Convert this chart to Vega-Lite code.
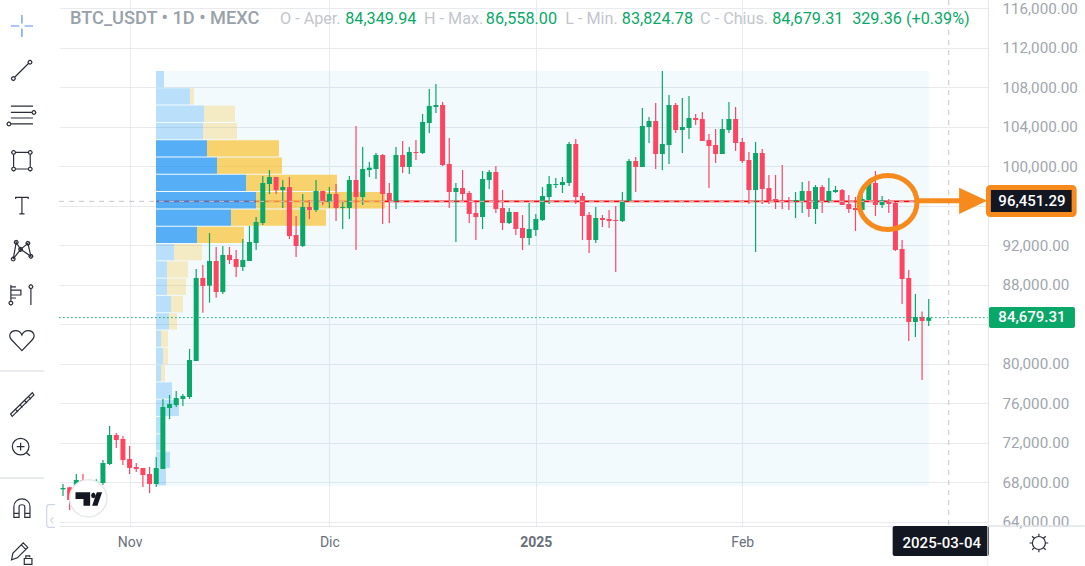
{"$schema":"https://vega.github.io/schema/vega-lite/v6.json","width":929,"height":526,"autosize":"none","padding":{"left":59,"top":0,"right":97,"bottom":40},"background":"#ffffff","config":{"view":{"stroke":null},"font":"Roboto"},
"datasets":{
"ohlc":[
{"d":"2024-10-22","o":67286,"h":67826,"l":66611,"c":67421},
{"d":"2024-10-23","o":67488,"h":67556,"l":65193,"c":66205},
{"d":"2024-10-24","o":66700,"h":68839,"l":66205,"c":68231},
{"d":"2024-10-25","o":68231,"h":68839,"l":66374,"c":66881},
{"d":"2024-10-26","o":66881,"h":67500,"l":66700,"c":67151},
{"d":"2024-10-27","o":67151,"h":68299,"l":66881,"c":68062},
{"d":"2024-10-28","o":67927,"h":70257,"l":67725,"c":69953},
{"d":"2024-10-29","o":69851,"h":73700,"l":69750,"c":72789},
{"d":"2024-10-30","o":72789,"h":72991,"l":71472,"c":72282},
{"d":"2024-10-31","o":72384,"h":72687,"l":69750,"c":70257},
{"d":"2024-11-01","o":70358,"h":71675,"l":68839,"c":69446},
{"d":"2024-11-02","o":69548,"h":69953,"l":69041,"c":69345},
{"d":"2024-11-03","o":69446,"h":69446,"l":67522,"c":68737},
{"d":"2024-11-04","o":68839,"h":69548,"l":66914,"c":67826},
{"d":"2024-11-05","o":67826,"h":70560,"l":67522,"c":69446},
{"d":"2024-11-06","o":69345,"h":76435,"l":69345,"c":75624},
{"d":"2024-11-07","o":75523,"h":76840,"l":74409,"c":75928},
{"d":"2024-11-08","o":75827,"h":77245,"l":75624,"c":76536},
{"d":"2024-11-09","o":76435,"h":76941,"l":75726,"c":76739},
{"d":"2024-11-10","o":76637,"h":81499,"l":76435,"c":80385},
{"d":"2024-11-11","o":80283,"h":89599,"l":80283,"c":88687},
{"d":"2024-11-12","o":88687,"h":90004,"l":85179,"c":87877},
{"d":"2024-11-13","o":87913,"h":93245,"l":86191,"c":90409},
{"d":"2024-11-14","o":90409,"h":91827,"l":86698,"c":87270},
{"d":"2024-11-15","o":87270,"h":91928,"l":87067,"c":91017},
{"d":"2024-11-16","o":91017,"h":91827,"l":90105,"c":90510},
{"d":"2024-11-17","o":90611,"h":91523,"l":88788,"c":89801},
{"d":"2024-11-18","o":89801,"h":92637,"l":89396,"c":90510},
{"d":"2024-11-19","o":90409,"h":93954,"l":90409,"c":92333},
{"d":"2024-11-20","o":92232,"h":94865,"l":91523,"c":94358},
{"d":"2024-11-21","o":94257,"h":99018,"l":94055,"c":98309},
{"d":"2024-11-22","o":98207,"h":99625,"l":97195,"c":98916},
{"d":"2024-11-23","o":98916,"h":98916,"l":97195,"c":97600},
{"d":"2024-11-24","o":97600,"h":98612,"l":95777,"c":97903},
{"d":"2024-11-25","o":97903,"h":98916,"l":92637,"c":92941},
{"d":"2024-11-26","o":93042,"h":94966,"l":90814,"c":91928},
{"d":"2024-11-27","o":91928,"h":97195,"l":91827,"c":95878},
{"d":"2024-11-28","o":95878,"h":96587,"l":94663,"c":95574},
{"d":"2024-11-29","o":95574,"h":98612,"l":95372,"c":97498},
{"d":"2024-11-30","o":97498,"h":97498,"l":96080,"c":96485},
{"d":"2024-12-01","o":96384,"h":97903,"l":95777,"c":97195},
{"d":"2024-12-02","o":97195,"h":98207,"l":94460,"c":95777},
{"d":"2024-12-03","o":95777,"h":96384,"l":93650,"c":95878},
{"d":"2024-12-04","o":95777,"h":99018,"l":94663,"c":98612},
{"d":"2024-12-05","o":98612,"h":104082,"l":91523,"c":96891},
{"d":"2024-12-06","o":96891,"h":101955,"l":96080,"c":99726},
{"d":"2024-12-07","o":99625,"h":100435,"l":98916,"c":99861},
{"d":"2024-12-08","o":99726,"h":101347,"l":98714,"c":101144},
{"d":"2024-12-09","o":101145,"h":101247,"l":94157,"c":97195},
{"d":"2024-12-10","o":97297,"h":98309,"l":94258,"c":96486},
{"d":"2024-12-11","o":96486,"h":101955,"l":95676,"c":101145},
{"d":"2024-12-12","o":101145,"h":102563,"l":99322,"c":99930},
{"d":"2024-12-13","o":99930,"h":101955,"l":99221,"c":101449},
{"d":"2024-12-14","o":101449,"h":102664,"l":100639,"c":101348},
{"d":"2024-12-15","o":101348,"h":105298,"l":101247,"c":104487},
{"d":"2024-12-16","o":104386,"h":107830,"l":103373,"c":106108},
{"d":"2024-12-17","o":106007,"h":108336,"l":105399,"c":106209},
{"d":"2024-12-18","o":106209,"h":106513,"l":100031,"c":100132},
{"d":"2024-12-19","o":100234,"h":102867,"l":95777,"c":97398},
{"d":"2024-12-20","o":97398,"h":98309,"l":92334,"c":97803},
{"d":"2024-12-21","o":97803,"h":99626,"l":96385,"c":97195},
{"d":"2024-12-22","o":97297,"h":97499,"l":94258,"c":95170},
{"d":"2024-12-23","o":95271,"h":96588,"l":92536,"c":94866},
{"d":"2024-12-24","o":94866,"h":99525,"l":93650,"c":98714},
{"d":"2024-12-25","o":98613,"h":99626,"l":97702,"c":99423},
{"d":"2024-12-26","o":99423,"h":100031,"l":95271,"c":95676},
{"d":"2024-12-27","o":95777,"h":97601,"l":93549,"c":94258},
{"d":"2024-12-28","o":94258,"h":95777,"l":94157,"c":95372},
{"d":"2024-12-29","o":95372,"h":95372,"l":93043,"c":93650},
{"d":"2024-12-30","o":93752,"h":95068,"l":91524,"c":92739},
{"d":"2024-12-31","o":92739,"h":96284,"l":92030,"c":93650},
{"d":"2025-01-01","o":93549,"h":95170,"l":92941,"c":94663},
{"d":"2025-01-02","o":94562,"h":97904,"l":94461,"c":96993},
{"d":"2025-01-03","o":96891,"h":99018,"l":96183,"c":98208},
{"d":"2025-01-04","o":98107,"h":98816,"l":97800,"c":98208},
{"d":"2025-01-05","o":98107,"h":98917,"l":97296,"c":98411},
{"d":"2025-01-06","o":98309,"h":102462,"l":98006,"c":102259},
{"d":"2025-01-07","o":102259,"h":102766,"l":96183,"c":96891},
{"d":"2025-01-08","o":96993,"h":97296,"l":92536,"c":94967},
{"d":"2025-01-09","o":95068,"h":95372,"l":91220,"c":92536},
{"d":"2025-01-10","o":92536,"h":95878,"l":92232,"c":94765},
{"d":"2025-01-11","o":94765,"h":95068,"l":93853,"c":94562},
{"d":"2025-01-12","o":94663,"h":95575,"l":93752,"c":94461},
{"d":"2025-01-13","o":94562,"h":95980,"l":89295,"c":94461},
{"d":"2025-01-14","o":94461,"h":97398,"l":94359,"c":96486},
{"d":"2025-01-15","o":96486,"h":100740,"l":96486,"c":100538},
{"d":"2025-01-16","o":100538,"h":100943,"l":97398,"c":99930},
{"d":"2025-01-17","o":99930,"h":105905,"l":99930,"c":104082},
{"d":"2025-01-18","o":103981,"h":104994,"l":102361,"c":104589},
{"d":"2025-01-19","o":104589,"h":106412,"l":99727,"c":101247},
{"d":"2025-01-20","o":101247,"h":109653,"l":99626,"c":102259},
{"d":"2025-01-21","o":102158,"h":107222,"l":100234,"c":106209},
{"d":"2025-01-22","o":106209,"h":106412,"l":103373,"c":103677},
{"d":"2025-01-23","o":103677,"h":106918,"l":101347,"c":103981},
{"d":"2025-01-24","o":103880,"h":107121,"l":102765,"c":104892},
{"d":"2025-01-25","o":104892,"h":105297,"l":104183,"c":104690},
{"d":"2025-01-26","o":104791,"h":105500,"l":102563,"c":102563},
{"d":"2025-01-27","o":102664,"h":103272,"l":97803,"c":102057},
{"d":"2025-01-28","o":102158,"h":103778,"l":100335,"c":101246},
{"d":"2025-01-29","o":101246,"h":104791,"l":101246,"c":103778},
{"d":"2025-01-30","o":103677,"h":106513,"l":103373,"c":104791},
{"d":"2025-01-31","o":104791,"h":106006,"l":101550,"c":102360},
{"d":"2025-02-01","o":102462,"h":102867,"l":100335,"c":100537},
{"d":"2025-02-02","o":100639,"h":101449,"l":96182,"c":97600},
{"d":"2025-02-03","o":97600,"h":102462,"l":91321,"c":101347},
{"d":"2025-02-04","o":101347,"h":101753,"l":96182,"c":97702},
{"d":"2025-02-05","o":97803,"h":99119,"l":96182,"c":96486},
{"d":"2025-02-06","o":96689,"h":99119,"l":95676,"c":96486},
{"d":"2025-02-07","o":96587,"h":100132,"l":95676,"c":96385},
{"d":"2025-02-08","o":96587,"h":96891,"l":95575,"c":96486},
{"d":"2025-02-09","o":96486,"h":97398,"l":94764,"c":96587},
{"d":"2025-02-10","o":96486,"h":98410,"l":95271,"c":97499},
{"d":"2025-02-11","o":97499,"h":98512,"l":94865,"c":95676},
{"d":"2025-02-12","o":95676,"h":98107,"l":94157,"c":97904},
{"d":"2025-02-13","o":97904,"h":98107,"l":95271,"c":96486},
{"d":"2025-02-14","o":96486,"h":98816,"l":96284,"c":97499},
{"d":"2025-02-15","o":97398,"h":98005,"l":97296,"c":97600},
{"d":"2025-02-16","o":97600,"h":97702,"l":96081,"c":96081},
{"d":"2025-02-17","o":96182,"h":97094,"l":95271,"c":95676},
{"d":"2025-02-18","o":95777,"h":96891,"l":93448,"c":95575},
{"d":"2025-02-19","o":95575,"h":97094,"l":95575,"c":96689},
{"d":"2025-02-20","o":96587,"h":98714,"l":96587,"c":98309},
{"d":"2025-02-21","o":98309,"h":99524,"l":94967,"c":96081},
{"d":"2025-02-22","o":96081,"h":96993,"l":95777,"c":96587},
{"d":"2025-02-23","o":96486,"h":96688,"l":95271,"c":96182},
{"d":"2025-02-24","o":96284,"h":96385,"l":91422,"c":91523},
{"d":"2025-02-25","o":91626,"h":92538,"l":86056,"c":88588},
{"d":"2025-02-26","o":88689,"h":89499,"l":82308,"c":84232},
{"d":"2025-02-27","o":84232,"h":87068,"l":82713,"c":84739},
{"d":"2025-02-28","o":84739,"h":85300,"l":78358,"c":84334},
{"d":"2025-03-01","o":84349.94,"h":86558,"l":83824.78,"c":84679.31}
],
"profile":[
{"hi":109652,"lo":108002,"base":0,"buy":80,"total":80,"va":0},
{"hi":107900,"lo":106250,"base":0,"buy":340,"total":380,"va":0},
{"hi":106148,"lo":104498,"base":0,"buy":480,"total":790,"va":0},
{"hi":104396,"lo":102746,"base":0,"buy":470,"total":810,"va":0},
{"hi":102644,"lo":100994,"base":0,"buy":510,"total":1230,"va":1},
{"hi":100892,"lo":99242,"base":0,"buy":610,"total":1260,"va":1},
{"hi":99140,"lo":97490,"base":0,"buy":900,"total":1810,"va":1},
{"hi":97388,"lo":95738,"base":0,"buy":1000,"total":2290,"va":1},
{"hi":95636,"lo":93986,"base":0,"buy":750,"total":1700,"va":1},
{"hi":93884,"lo":92234,"base":0,"buy":410,"total":880,"va":1},
{"hi":92132,"lo":90482,"base":0,"buy":180,"total":460,"va":0},
{"hi":90380,"lo":88730,"base":0,"buy":110,"total":320,"va":0},
{"hi":88628,"lo":86978,"base":0,"buy":110,"total":300,"va":0},
{"hi":86876,"lo":85226,"base":0,"buy":150,"total":270,"va":0},
{"hi":85124,"lo":83474,"base":0,"buy":130,"total":210,"va":0},
{"hi":83372,"lo":81722,"base":0,"buy":50,"total":120,"va":0},
{"hi":81620,"lo":79970,"base":0,"buy":70,"total":120,"va":0},
{"hi":79868,"lo":78218,"base":0,"buy":50,"total":90,"va":0},
{"hi":78116,"lo":76466,"base":0,"buy":160,"total":160,"va":0},
{"hi":76364,"lo":74714,"base":0,"buy":230,"total":230,"va":0},
{"hi":74612,"lo":72962,"base":0,"buy":60,"total":60,"va":0},
{"hi":72860,"lo":71210,"base":0,"buy":50,"total":50,"va":0},
{"hi":71108,"lo":69458,"base":0,"buy":140,"total":140,"va":0},
{"hi":69356,"lo":67706,"base":0,"buy":100,"total":100,"va":0}
],
"levels":[
{"name":"cursor","p":96451,"d":"2024-10-21T10:00:00Z","d2":"2025-03-09T21:00:00Z"},
{"name":"last","p":84679.31,"d":"2024-10-21T10:00:00Z","d2":"2025-03-09T21:00:00Z"}
],
"boxes":[
{"name":"poc","d":"2025-03-09T23:00:00Z","d2":"2025-03-22T20:00:00Z","p":97855,"p2":95122},
{"name":"last","d":"2025-03-10T01:00:00Z","d2":"2025-03-22T23:00:00Z","p":85753,"p2":83629},
{"name":"date","d":"2025-02-23T14:00:00Z","d2":"2025-03-10T01:00:00Z","p":63575,"p2":60537}
],
"tags":[
{"t":"96,451.29","d":"2025-03-16T12:00:00Z","p":96437},
{"t":"84,679.31","d":"2025-03-16T12:00:00Z","p":84690},
{"t":"2025-03-04","d":"2025-03-02T23:00:00Z","p":61853}
],
"header":[
{"t":"O - Aper.","k":"name","d":"2024-11-23T14:00:00Z","p":114920},
{"t":"84,349.94","k":"value","d":"2024-12-03T09:00:00Z","p":114920},
{"t":"H - Max.","k":"name","d":"2024-12-15T05:00:00Z","p":114920},
{"t":"86,558.00","k":"value","d":"2024-12-24T12:00:00Z","p":114920},
{"t":"L - Min.","k":"name","d":"2025-01-05T10:00:00Z","p":114920},
{"t":"83,824.78","k":"value","d":"2025-01-13T22:00:00Z","p":114920},
{"t":"C - Chius.","k":"name","d":"2025-01-25T16:00:00Z","p":114920},
{"t":"84,679.31","k":"value","d":"2025-02-05T12:00:00Z","p":114920},
{"t":"329.36 (+0.39%)","k":"value","d":"2025-02-17T12:00:00Z","p":114920}
],
"tools":[
{"tool":"cross","d":"2024-10-15T20:00:00Z","p":114210},
{"tool":"trend","d":"2024-10-15T20:00:00Z","p":109754},
{"tool":"fib","d":"2024-10-15T20:00:00Z","p":105196},
{"tool":"rect","d":"2024-10-15T20:00:00Z","p":100568},
{"tool":"text","d":"2024-10-15T20:00:00Z","p":96032},
{"tool":"pattern","d":"2024-10-15T20:00:00Z","p":91525},
{"tool":"forecast","d":"2024-10-15T20:00:00Z","p":86968},
{"tool":"heart","d":"2024-10-15T20:00:00Z","p":82411},
{"tool":"ruler","d":"2024-10-15T20:00:00Z","p":75929},
{"tool":"zoom","d":"2024-10-15T20:00:00Z","p":71575},
{"tool":"magnet","d":"2024-10-15T20:00:00Z","p":65397},
{"tool":"pencil","d":"2024-10-15T20:00:00Z","p":60942},
{"tool":"gear","d":"2025-03-17T13:00:00Z","p":61853},
{"tool":"tab","d":"2024-10-20T01:00:00Z","p":64587}
],
"frame":[
{"d":"2024-10-12T13:00:00Z","d2":"2024-10-19T04:00:00Z","p":79271},
{"d":"2024-10-12T13:00:00Z","d2":"2024-10-19T04:00:00Z","p":68435},
{"d":"2025-03-09T21:00:00Z","d2":"2025-03-24T10:00:00Z","p":63575}
]
},
"layer":[
{"encoding":{"x":{"field":"d","type":"temporal","title":null,"scale":{"type":"utc","domain":[1729503360000,1741556160000]},"axis":{"values":[1730419200000,1733011200000,1735689600000,1738368000000],"labelExpr":"utcmonth(datum.value)==10?'Nov':utcmonth(datum.value)==11?'Dic':utcmonth(datum.value)==0?'2025':'Feb'","labelFontSize":14,"labelFont":"Roboto","labelColor":"#6a6f7a","labelFontWeight":{"condition":{"test":"utcmonth(datum.value)==0","value":"bold"},"value":"normal"},"labelPadding":9,"tickSize":0,"domainColor":"#e4e6ea","gridColor":"#e8eaee","grid":true,"title":null,"labelOverlap":false}}},
"layer":[
{"data":{"values":[{"d":"2024-11-05","d2":"2025-03-01","p":109652,"p2":67604}]},"mark":{"type":"rect","color":"#1aa3d9","opacity":0.06},"encoding":{"x2":{"field":"d2"},"y":{"field":"p","type":"quantitative","title":null,"scale":{"domain":[63575,116842],"nice":false,"zero":false},"axis":{"orient":"right","values":[64000,68000,72000,76000,80000,84000,88000,92000,96000,100000,104000,108000,112000,116000],"labelExpr":"datum.value==96000||datum.value==84000?'':format(datum.value,',.2f')","labelFontSize":15.2,"labelFont":"Roboto","labelColor":"#9fa6ad","labelPadding":14,"tickSize":0,"domainColor":"#e4e6ea","gridColor":"#e8eaee","grid":true,"title":null,"labelOverlap":false,"labelBound":false}},"y2":{"field":"p2"}}},
{"data":{"values":[{"d":"2024-11-05","d2":"2025-02-27","p":96451}]},"mark":{"type":"rule","color":"#ff0000","strokeWidth":1.6},"encoding":{"x2":{"field":"d2"},"y":{"field":"p","type":"quantitative"}}}
]},
{"data":{"name":"profile"},"encoding":{"y":{"field":"hi","type":"quantitative"},"y2":{"field":"lo"}},
"layer":[
{"mark":{"type":"rect","color":"#2196f3"},"encoding":{"x":{"field":"base","type":"quantitative","scale":{"domain":[-970,8320],"nice":false,"zero":false},"axis":null},"x2":{"field":"buy"},"opacity":{"condition":{"test":"datum.va==1","value":0.75},"value":0.27}}},
{"mark":{"type":"rect","color":"#fbc02d"},"encoding":{"x":{"field":"buy","type":"quantitative","scale":{"domain":[-970,8320],"nice":false,"zero":false},"axis":null},"x2":{"field":"total"},"opacity":{"condition":{"test":"datum.va==1","value":0.7},"value":0.27}}}
]},
{"encoding":{"x":{"field":"d","type":"temporal","scale":{"type":"utc","domain":[1729503360000,1741556160000],"padding":0},"axis":null}},
"layer":[
{"data":{"name":"ohlc"},"mark":{"type":"rule","strokeWidth":1.2},"encoding":{"y":{"field":"l","type":"quantitative"},"y2":{"field":"h"},"color":{"condition":{"test":"datum.c>=datum.o","value":"#0aa868"},"value":"#fd4561"}}},
{"data":{"name":"ohlc"},"mark":{"type":"bar","width":5},"encoding":{"y":{"field":"o","type":"quantitative"},"y2":{"field":"c"},"color":{"condition":{"test":"datum.c>=datum.o","value":"#0aa868"},"value":"#fd4561"}}},
{"data":{"name":"levels"},"mark":{"type":"rule","strokeWidth":1},"encoding":{"x2":{"field":"d2"},"y":{"field":"p","type":"quantitative"},"color":{"field":"name","type":"nominal","scale":{"domain":["cursor","last"],"range":["#c3c6cc","#0aa868"]},"legend":null},"strokeDash":{"field":"name","type":"nominal","scale":{"domain":["cursor","last"],"range":[[5,5],[1.5,2.5]]},"legend":null}}},
{"data":{"values":[{"d":"2025-03-04"}]},"mark":{"type":"rule","strokeWidth":1,"color":"#c3c6cc","strokeDash":[5,5]},"encoding":{}},
{"data":{"values":[{"d":"2025-02-22T21:00:00Z","p":96335}]},"mark":{"type":"point","filled":false,"opacity":1,"color":"#f78a1d","strokeWidth":5,"size":3364,"shape":"M-1,0 C-1,-.514 -.552,-.93 0,-.93 C.552,-.93 1,-.514 1,0 C1,.514 .552,.93 0,.93 C-.552,.93 -1,.514 -1,0 Z"},"encoding":{"y":{"field":"p","type":"quantitative"}}},
{"data":{"values":[{"d":"2025-02-27T10:00:00Z","d2":"2025-03-07T00:00:00Z","p":96520}]},"mark":{"type":"rule","color":"#f78a1d","strokeWidth":5},"encoding":{"x2":{"field":"d2"},"y":{"field":"p","type":"quantitative"}}},
{"data":{"values":[{"d":"2025-03-07T16:00:00Z","p":96500}]},"mark":{"type":"point","filled":true,"opacity":1,"color":"#f78a1d","size":784,"shape":"M-1,-.93 L1,0 L-1,.93 Z"},"encoding":{"y":{"field":"p","type":"quantitative"}}},
{"data":{"name":"boxes"},"mark":{"type":"rect","cornerRadius":2},"encoding":{"x2":{"field":"d2"},"y":{"field":"p","type":"quantitative"},"y2":{"field":"p2"},"fill":{"field":"name","type":"nominal","scale":{"domain":["poc","last","date"],"range":["#131722","#0aa868","#131722"]},"legend":null},"stroke":{"field":"name","type":"nominal","scale":{"domain":["poc","last","date"],"range":["#f78a1d","#0aa868","#131722"]},"legend":null},"strokeWidth":{"condition":{"test":"datum.name=='poc'","value":5},"value":0}}},
{"data":{"name":"tags"},"mark":{"type":"text","color":"#ffffff","fontSize":15,"font":"Roboto","fontWeight":500,"align":"center","baseline":"middle"},"encoding":{"y":{"field":"p","type":"quantitative"},"text":{"field":"t"}}},
{"data":{"values":[{"t":"BTC_USDT • 1D • MEXC","d":"2024-10-23T01:00:00Z","p":114920}]},"mark":{"type":"text","color":"#99a1a9","fontSize":18.2,"font":"Roboto","fontWeight":500,"align":"left","baseline":"middle"},"encoding":{"y":{"field":"p","type":"quantitative"},"text":{"field":"t"}}},
{"data":{"name":"header"},"mark":{"type":"text","fontSize":16.2,"font":"Roboto","align":"left","baseline":"middle"},"encoding":{"y":{"field":"p","type":"quantitative"},"text":{"field":"t"},"color":{"field":"k","type":"nominal","scale":{"domain":["name","value"],"range":["#a3a9b0","#0aa868"]},"legend":null}}},
{"data":{"name":"frame"},"mark":{"type":"rule","color":"#e2e4ea","strokeWidth":1.5},"encoding":{"x2":{"field":"d2"},"y":{"field":"p","type":"quantitative"}}},
{"data":{"values":[{"d":"2025-03-09T21:00:00Z","p":63575,"p2":59524}]},"mark":{"type":"rule","color":"#eceef1","strokeWidth":1},"encoding":{"y":{"field":"p","type":"quantitative"},"y2":{"field":"p2"}}},
{"data":{"values":[{"d":"2024-10-25T19:00:00Z","p":66380}]},"mark":{"type":"point","filled":true,"opacity":1,"fill":"#ffffff","stroke":"#e6e8ec","strokeWidth":1.5,"size":1385,"shape":"circle"},"encoding":{"y":{"field":"p","type":"quantitative"}}},
{"data":{"values":[{"d":"2024-10-25T21:00:00Z","p":66310}]},"mark":{"type":"point","filled":true,"opacity":1,"color":"#131722","size":708,"shape":"M-1,-.5 L.1,-.5 L.1,.5 L-.4,.5 L-.4,0 L-1,0 Z M.17,-.27 L.22,-.42 L.34,-.48 L.46,-.42 L.51,-.27 L.46,-.12 L.34,-.06 L.22,-.12 Z M.25,.5 L.6,-.5 L1,-.5 L.65,.5 Z"},"encoding":{"y":{"field":"p","type":"quantitative"}}},
{"data":{"name":"tools"},"mark":{"type":"point","filled":false,"opacity":1,"size":676,"strokeWidth":1.2},"encoding":{"y":{"field":"p","type":"quantitative"},"color":{"condition":[{"test":"datum.tool=='cross'","value":"#5b8cff"},{"test":"datum.tool=='tab'","value":"#cfd6e4"}],"value":"#2a2e39"},"shape":{"field":"tool","type":"nominal","legend":null,"scale":{"domain":["cross","trend","fib","rect","text","pattern","forecast","heart","ruler","zoom","magnet","pencil","gear","tab"],"range":[
"M-.85,0 L-.2,0 M.2,0 L.85,0 M0,-.85 L0,-.2 M0,.2 L0,.85",
"M-.56,.56 L.52,-.52 M.47,-.6 l.05,-.1 l.1,-.05 l.1,.05 l.05,.1 l-.05,.1 l-.1,.05 l-.1,-.05 Z M-.81,.66 l.05,-.1 l.1,-.05 l.1,.05 l.05,.1 l-.05,.1 l-.1,.05 l-.1,-.05 Z",
"M-.85,-.69 L.85,-.69 M-.85,-.2 L.77,-.2 M.77,-.2 l.05,-.1 l.1,-.05 l.1,.05 l.05,.1 l-.05,.1 l-.1,.05 l-.1,-.05 Z M-.85,.23 L.85,.23 M-.85,.69 L.85,.69 M-1.15,.69 l.05,-.1 l.1,-.05 l.1,.05 l.05,.1 l-.05,.1 l-.1,.05 l-.1,-.05 Z",
"M-.64,-.5 L-.64,.5 M-.5,-.64 L.5,-.64 M.64,-.5 L.64,.5 M-.5,.64 L.5,.64 M-.79,-.64 l.05,-.1 l.1,-.05 l.1,.05 l.05,.1 l-.05,.1 l-.1,.05 l-.1,-.05 Z M.49,-.64 l.05,-.1 l.1,-.05 l.1,.05 l.05,.1 l-.05,.1 l-.1,.05 l-.1,-.05 Z M-.79,.64 l.05,-.1 l.1,-.05 l.1,.05 l.05,.1 l-.05,.1 l-.1,.05 l-.1,-.05 Z M.49,.64 l.05,-.1 l.1,-.05 l.1,.05 l.05,.1 l-.05,.1 l-.1,.05 l-.1,-.05 Z",
"M-.48,-.5 L-.48,-.62 L.48,-.62 L.48,-.5 M0,-.62 L0,.65 M-.2,.65 L.2,.65",
"M-.67,.69 L-.44,-.59 L-.1,-.05 L-.67,.69 M-.1,-.05 L.46,-.51 L.69,.49 L-.1,-.05 M-.59,-.59 l.05,-.1 l.1,-.05 l.1,.05 l.05,.1 l-.05,.1 l-.1,.05 l-.1,-.05 Z M.31,-.51 l.05,-.1 l.1,-.05 l.1,.05 l.05,.1 l-.05,.1 l-.1,.05 l-.1,-.05 Z M-.25,-.05 l.05,-.1 l.1,-.05 l.1,.05 l.05,.1 l-.05,.1 l-.1,.05 l-.1,-.05 Z M.54,.49 l.05,-.1 l.1,-.05 l.1,.05 l.05,.1 l-.05,.1 l-.1,.05 l-.1,-.05 Z M-.82,.69 l.05,-.1 l.1,-.05 l.1,.05 l.05,.1 l-.05,.1 l-.1,.05 l-.1,-.05 Z",
"M-.85,-.77 L-.85,.47 M-.85,-.62 L-.46,-.62 M-.85,-.38 L-.08,-.38 L-.08,0 L-.85,0 M-.85,.23 L-.46,.23 M-1,.62 l.05,-.1 l.1,-.05 l.1,.05 l.05,.1 l-.05,.1 l-.1,.05 l-.1,-.05 Z M.69,-.49 L.69,.77 M.54,-.64 l.05,-.1 l.1,-.05 l.1,.05 l.05,.1 l-.05,.1 l-.1,.05 l-.1,-.05 Z",
"M0,.82 L-.8,-.02 C-1.1,-.35 -.85,-.72 -.5,-.72 C-.25,-.72 -.08,-.6 0,-.38 C.08,-.6 .25,-.72 .5,-.72 C.85,-.72 1.1,-.35 .8,-.02 Z",
"M-.87,.77 L.8,-.87 L.92,-.7 L-.75,.95 Z M-.5,.41 L-.3,.6 M-.15,.07 L.05,.26 M.2,-.27 L.4,-.08 M.5,-.57 L.7,-.38",
"M-.74,-.03 C-.74,-.383 -.453,-.67 -.1,-.67 C.253,-.67 .54,-.383 .54,-.03 C.54,.323 .253,.61 -.1,.61 C-.453,.61 -.74,.323 -.74,-.03 Z M-.1,-.33 L-.1,.27 M-.4,-.03 L.2,-.03 M.36,.44 L.62,.67",
"M-.62,.72 L-.62,-.1 C-.62,-.5 -.3,-.7 0,-.7 C.3,-.7 .62,-.5 .62,-.1 L.62,.72 L.22,.72 L.22,-.1 C.22,-.3 -.22,-.3 -.22,-.1 L-.22,.72 Z M-.62,.42 L-.22,.42 M.22,.42 L.62,.42",
"M-.8,.6 L-.7,.1 L.1,-.7 L.45,-.35 L-.35,.45 Z M-.05,-.55 L.3,-.2 M.18,.5 L.77,.5 L.77,.95 L.18,.95 Z M.3,.5 L.3,.3 L.6,.3 L.6,.4",
"M-.5,0 C-.5,-.276 -.276,-.5 0,-.5 C.276,-.5 .5,-.276 .5,0 C.5,.276 .276,.5 0,.5 C-.276,.5 -.5,.276 -.5,0 Z M0,-.5 L0,-.72 M0,.5 L0,.72 M-.5,0 L-.72,0 M.5,0 L.72,0 M-.35,-.35 L-.52,-.52 M.35,-.35 L.52,-.52 M-.35,.35 L-.52,.52 M.35,.35 L.52,.52",
"M.4,-.88 L-.05,-.88 C-.2,-.88 -.25,-.8 -.25,-.7 L-.25,.7 C-.25,.8 -.2,.88 -.05,.88 L.4,.88 M.25,.1 L.05,.33 L.25,.56"
]}}}}
]}
],
"resolve":{"scale":{"x":"independent"},"axis":{"x":"independent"}}
}
